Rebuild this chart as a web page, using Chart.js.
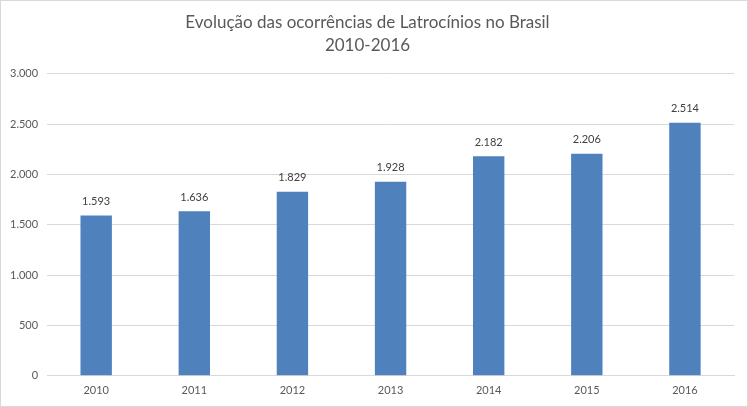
<!DOCTYPE html>
<html>
<head>
<meta charset="utf-8">
<script src="https://cdn.jsdelivr.net/npm/chart.js@4/dist/chart.umd.min.js"></script>
<style>
  html, body { margin: 0; padding: 0; background: #fff; }
  #wrap { position: relative; width: 746px; height: 405px; border: 1px solid #d9d9d9; }
</style>
</head>
<body>
<div id="wrap"><canvas id="chart"></canvas></div>
<script>
// dados
const anos = ['2010', '2011', '2012', '2013', '2014', '2015', '2016'];
const ocorrencias = [1593, 1636, 1829, 1928, 2182, 2206, 2514];
const titulo = ['Evolução das ocorrências de Latrocínios no Brasil', '2010-2016'];

const fmt = v => v.toLocaleString('pt-BR');

// rotulos em cima das barras
const rotulos = {
  id: 'rotulos',
  afterDatasetsDraw(chart) {
    const ctx = chart.ctx;
    const meta = chart.getDatasetMeta(0);
    ctx.save();
    ctx.font = '11px Lato, "Open Sans", sans-serif';
    ctx.fillStyle = '#404040';
    ctx.textAlign = 'center';
    ctx.textBaseline = 'middle';
    meta.data.forEach((bar, i) => {
      ctx.fillText(fmt(ocorrencias[i]), bar.x, bar.y - 14);
    });
    ctx.restore();
  }
};

new Chart(document.getElementById('chart'), {
  type: 'bar',
  data: {
    labels: anos,
    datasets: [{
      data: ocorrencias,
      backgroundColor: '#4F81BD',
      barPercentage: 0.32,
      categoryPercentage: 1
    }]
  },
  options: {
    responsive: true,
    maintainAspectRatio: false,
    animation: false,
    layout: { padding: { left: 0, right: 13, top: 0, bottom: 1 } },
    plugins: {
      legend: { display: false },
      tooltip: { enabled: false },
      title: {
        display: true,
        text: titulo,
        color: '#595959',
        font: { family: 'Lato, "Open Sans", sans-serif', size: 17, weight: 'normal', lineHeight: 1.35 },
        padding: { top: 10, bottom: 17 }
      }
    },
    scales: {
      x: {
        grid: { display: false, drawTicks: false },
        border: { color: '#d9d9d9' },
        ticks: { color: '#595959', font: { family: 'Lato, "Open Sans", sans-serif', size: 11 }, padding: 8 }
      },
      y: {
        min: 0,
        max: 3000,
        grid: { color: '#d9d9d9', drawTicks: false },
        border: { display: false },
        ticks: {
          stepSize: 500,
          color: '#595959',
          font: { family: 'Lato, "Open Sans", sans-serif', size: 11 },
          padding: 9,
          callback: v => fmt(v)
        }
      }
    }
  },
  plugins: [rotulos]
});
</script>
</body>
</html>
